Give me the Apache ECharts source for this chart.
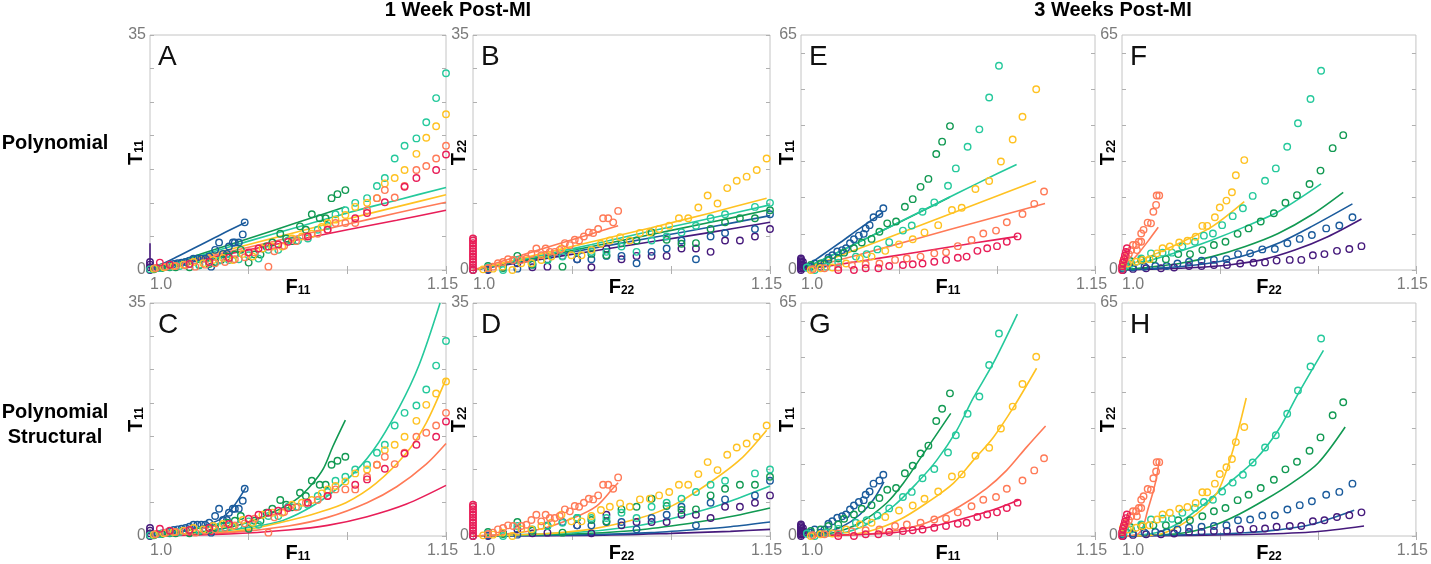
<!DOCTYPE html>
<html><head><meta charset="utf-8">
<script src="https://cdn.jsdelivr.net/npm/echarts@6/dist/echarts.min.js"></script>
<style>html,body{margin:0;padding:0;background:#fff}#c{width:1431px;height:564px}</style>
</head><body><div id="c"></div>
<script>
// ---------- experimental points: 1 week, F11 (panels A & C) ----------
const w1F11_purple = [[1.0,0],[1.0,0.4],[1.0,0.8],[1.0,1.2]];
const w1F11_blue = [[1.002,0.2],[1.004,0.3],[1.006,0.4],[1.008,0.5],[1.010,0.7],[1.012,0.9],[1.014,1.0],[1.016,1.1],[1.018,1.2],[1.020,1.4],[1.022,1.7],[1.024,1.7],[1.026,1.7],[1.028,1.7],[1.030,2.0],[1.031,0.5],[1.033,3.0],[1.035,4.1],[1.037,2.4],[1.039,2.4],[1.040,3.5],[1.042,4.1],[1.043,4.1],[1.045,4.1],[1.047,5.3],[1.048,7.1]];
const w1F11_green = [[1.002,0.1],[1.006,0.3],[1.010,0.4],[1.013,0.4],[1.020,0.4],[1.025,0.7],[1.030,0.9],[1.033,1.2],[1.036,1.5],[1.039,2.0],[1.043,2.3],[1.046,3.0],[1.050,1.1],[1.053,2.3],[1.056,2.3],[1.059,3.5],[1.062,4.1],[1.066,5.4],[1.069,4.7],[1.072,4.3],[1.076,6.5],[1.079,6.0],[1.082,8.3],[1.086,7.7],[1.089,7.7],[1.092,10.7],[1.095,11.3],[1.099,11.9]];
const w1F11_teal = [[1.000,0.1],[1.005,0.3],[1.010,0.5],[1.015,0.6],[1.020,0.9],[1.025,0.8],[1.030,1.1],[1.035,1.4],[1.040,1.5],[1.045,1.6],[1.050,2.2],[1.055,1.7],[1.060,3.0],[1.065,3.0],[1.070,4.4],[1.075,4.4],[1.080,4.7],[1.085,6.0],[1.090,6.6],[1.094,8.3],[1.099,8.9],[1.104,10.0],[1.110,10.7],[1.115,12.5],[1.119,13.7],[1.124,16.6],[1.129,18.5],[1.135,19.6],[1.140,22.0],[1.145,25.6],[1.150,29.3]];
const w1F11_yellow = [[1.002,0.2],[1.007,0.4],[1.012,0.6],[1.017,0.8],[1.022,1.2],[1.027,1.0],[1.032,1.5],[1.037,1.8],[1.042,1.5],[1.047,2.4],[1.052,2.0],[1.057,3.2],[1.062,3.5],[1.067,3.5],[1.072,4.7],[1.077,5.0],[1.082,5.4],[1.087,6.4],[1.090,7.0],[1.094,7.5],[1.099,8.2],[1.104,9.4],[1.110,10.0],[1.115,10.7],[1.119,12.9],[1.124,13.7],[1.129,14.9],[1.135,17.3],[1.140,19.7],[1.145,21.4],[1.150,23.2]];
const w1F11_orange = [[1.003,0.3],[1.008,0.5],[1.013,0.6],[1.018,0.7],[1.023,0.5],[1.028,0.8],[1.033,1.0],[1.038,1.2],[1.043,1.6],[1.048,1.9],[1.053,2.6],[1.060,0.5],[1.063,2.8],[1.068,3.6],[1.074,4.3],[1.079,5.0],[1.085,5.4],[1.090,6.0],[1.094,7.0],[1.099,7.0],[1.104,7.0],[1.110,8.9],[1.115,10.7],[1.119,11.9],[1.124,10.8],[1.129,12.5],[1.135,14.9],[1.140,15.5],[1.145,16.6],[1.150,18.5]];
const w1F11_pink = [[1.005,1.1],[1.010,0.8],[1.020,0.9],[1.030,1.2],[1.040,1.8],[1.050,2.6],[1.055,3.2],[1.060,3.5],[1.065,3.8],[1.070,4.2],[1.080,5.0],[1.090,6.0],[1.104,7.7],[1.110,8.5],[1.119,10.1],[1.129,12.4],[1.135,13.7],[1.145,14.9],[1.150,17.2]];

// ---------- experimental points: 1 week, F22 (panels B & D) ----------
const w1F22_pink = [[1.0,0],[1.0,0.4],[1.0,0.8],[1.0,1.2],[1.0,1.6],[1.0,2.0],[1.0,2.4],[1.0,2.8],[1.0,3.2],[1.0,3.6],[1.0,4.0],[1.0,4.4],[1.0,4.7]];
const w1F22_orange = [[1.0076,0.3],[1.0101,0.5],[1.0126,1.0],[1.0152,1.2],[1.0177,1.6],[1.0202,1.5],[1.0244,1.5],[1.027,1.7],[1.0295,2.4],[1.032,3.2],[1.0345,2.2],[1.0367,3.2],[1.0388,2.7],[1.0413,2.7],[1.0438,3.0],[1.0464,4.0],[1.0489,3.7],[1.0514,4.5],[1.0536,4.4],[1.056,5.0],[1.0585,5.6],[1.0607,5.5],[1.0632,6.1],[1.0657,7.7],[1.0683,7.7],[1.0708,7.1],[1.0733,8.8]];
const w1F22_yellow = [[1.0051,0.1],[1.0101,0.2],[1.0148,0.5],[1.0199,0],[1.0244,1.0],[1.0295,1.0],[1.0345,1.5],[1.0396,2.0],[1.0447,3.2],[1.0497,2.2],[1.0548,2.2],[1.0598,3.0],[1.0646,3.9],[1.0691,4.4],[1.0743,4.9],[1.0792,4.4],[1.0843,5.5],[1.0893,5.6],[1.094,6.1],[1.0991,6.6],[1.104,7.7],[1.1087,7.7],[1.1138,9.3],[1.1185,11.1],[1.1235,9.9],[1.1284,12.2],[1.1332,13.3],[1.1382,13.9],[1.1433,14.9],[1.1483,16.6]];
const w1F22_teal = [[1.0076,0.4],[1.0152,0],[1.0224,1.5],[1.03,1.0],[1.0376,1.5],[1.0452,2.0],[1.0526,2.7],[1.0598,2.7],[1.0674,2.7],[1.075,3.5],[1.0826,2.7],[1.0902,4.4],[1.0978,5.0],[1.1053,5.6],[1.1126,6.6],[1.12,7.7],[1.1273,8.3],[1.1424,9.4],[1.15,10.0]];
const w1F22_green = [[1.0076,0.6],[1.0152,0.3],[1.0224,2.1],[1.03,0.8],[1.0376,1.5],[1.0452,0.5],[1.0526,2.7],[1.0598,2.4],[1.0674,2.2],[1.075,4.0],[1.0826,4.4],[1.0902,5.6],[1.0978,4.5],[1.1053,3.9],[1.1126,4.0],[1.12,6.1],[1.1273,7.1],[1.1348,7.7],[1.1424,7.7],[1.15,8.9]];
const w1F22_blue = [[1.0076,0.1],[1.0152,0.4],[1.0224,0.2],[1.03,0.8],[1.0376,1.6],[1.0452,2.1],[1.0526,1.6],[1.0598,1.6],[1.0674,2.1],[1.075,2.1],[1.0826,1.0],[1.0902,2.7],[1.0978,3.2],[1.1053,4.4],[1.1126,1.6],[1.12,5.0],[1.1273,5.5],[1.1424,6.1],[1.15,8.3]];
const w1F22_purple = [[1.0,0],[1.0076,0],[1.0152,0.4],[1.0224,1.0],[1.03,0.4],[1.0376,0.5],[1.0526,1.6],[1.0598,0.4],[1.0674,3.2],[1.075,1.6],[1.0826,2.1],[1.0902,2.1],[1.0978,2.1],[1.1053,3.2],[1.1126,3.2],[1.12,2.7],[1.1273,4.4],[1.1348,4.4],[1.1424,5.0],[1.15,6.1]];

// ---------- experimental points: 3 weeks, F11 (panels E & G) ----------
const w3F11_purple = [[1.0,0],[1.0,0.4],[1.0,0.8],[1.0,1.2],[1.0,1.6],[1.0,2.0],[1.0,2.4],[1.0,2.8],[1.0,3.2],[1.001,0.6],[1.001,1.4],[1.001,2.2]];
const w3F11_blue = [[1.003,0.7],[1.005,0.9],[1.007,1.8],[1.010,0.9],[1.012,1.8],[1.014,3.4],[1.016,4.1],[1.0185,5.1],[1.021,5.5],[1.023,6.0],[1.025,7.4],[1.027,8.5],[1.0295,9.5],[1.032,10.0],[1.033,11.5],[1.035,12.4],[1.037,14.6],[1.040,15.5],[1.042,17.1]];
const w3F11_green = [[1.005,1.4],[1.010,1.8],[1.014,2.8],[1.019,3.2],[1.022,4.8],[1.027,6.0],[1.031,7.6],[1.036,8.6],[1.040,10.6],[1.044,12.9],[1.0485,13.4],[1.053,17.5],[1.057,19.6],[1.061,23.0],[1.065,25.2],[1.069,32.1],[1.072,35.5],[1.076,39.8]];
const w3F11_teal = [[1.003,0.7],[1.007,0],[1.013,0.9],[1.019,2.0],[1.028,3.7],[1.0335,4.4],[1.039,5.7],[1.045,7.7],[1.052,10.9],[1.0565,12.3],[1.062,16.1],[1.068,18.7],[1.075,23.3],[1.079,28.1],[1.085,34.1],[1.091,38.9],[1.096,47.7],[1.101,56.5]];
const w3F11_yellow = [[1.005,0],[1.010,0.5],[1.016,0.7],[1.023,1.8],[1.030,3.2],[1.036,3.7],[1.043,5.3],[1.050,7.1],[1.057,8.5],[1.063,10.4],[1.070,12.4],[1.077,16.6],[1.082,17.2],[1.089,22.4],[1.096,24.6],[1.102,30.0],[1.108,36.1],[1.113,42.4],[1.120,50.0]];
const w3F11_orange = [[1.006,0.2],[1.012,0.5],[1.019,0.7],[1.026,1.3],[1.033,1.6],[1.040,1.8],[1.048,2.8],[1.054,3.2],[1.061,3.7],[1.068,4.6],[1.074,4.9],[1.080,6.6],[1.087,8.3],[1.093,10.1],[1.0995,10.9],[1.105,13.2],[1.113,15.5],[1.119,18.3],[1.124,21.7]];
const w3F11_pink = [[1.019,0],[1.027,0],[1.033,0.5],[1.0395,0.5],[1.045,1.1],[1.052,1.4],[1.057,1.6],[1.062,1.8],[1.068,2.3],[1.074,2.8],[1.080,3.4],[1.0845,3.7],[1.090,5.3],[1.095,6.0],[1.100,6.6],[1.105,7.8],[1.1105,9.3]];

// ---------- experimental points: 3 weeks, F22 (panels F & H) ----------
const w3F22_pink = [[1.0,0],[1.0,1.0],[1.0005,2.0],[1.001,3.0],[1.0015,4.0],[1.002,5.0],[1.0025,6.0]];
const w3F22_orange = [[1.0005,1.4],[1.0013,2.8],[1.0022,3.7],[1.0035,4.4],[1.0047,5.5],[1.0056,6.9],[1.0072,6.9],[1.0076,5.5],[1.0086,7.8],[1.0098,7.8],[1.0098,10.1],[1.011,11.1],[1.0131,13.1],[1.0148,12.9],[1.016,16.1],[1.0174,18.0],[1.0177,20.6],[1.019,20.6]];
const w3F22_yellow = [[1.0005,2.3],[1.003,1.8],[1.0072,2.3],[1.0106,2.8],[1.014,3.0],[1.0179,4.6],[1.0207,6.0],[1.0244,6.5],[1.0292,7.6],[1.0334,8.1],[1.0376,9.2],[1.041,12.2],[1.0435,12.2],[1.0474,14.6],[1.0499,17.3],[1.0533,19.2],[1.0561,21.5],[1.0581,26.2],[1.0624,30.4]];
const w3F22_teal = [[1.0008,0.7],[1.0047,1.8],[1.0098,3.2],[1.0148,4.6],[1.0207,4.8],[1.0255,4.8],[1.0308,6.5],[1.0372,7.8],[1.0418,9.5],[1.0464,10.1],[1.0511,12.4],[1.0565,14.9],[1.0617,17.1],[1.0667,20.5],[1.073,24.7],[1.0785,28.1],[1.0843,34.1],[1.0898,40.6],[1.0962,47.3],[1.1016,55.1]];
const w3F22_green = [[1.0005,1.4],[1.0042,2.5],[1.0098,2.8],[1.016,3.0],[1.0224,3.0],[1.0287,4.4],[1.0347,4.4],[1.041,5.5],[1.0469,6.9],[1.0528,7.8],[1.059,10.0],[1.0646,11.5],[1.0708,13.4],[1.0775,15.7],[1.0834,18.6],[1.0893,20.7],[1.0957,23.8],[1.1013,27.5],[1.1075,33.7],[1.1129,37.3]];
const w3F22_blue = [[1.0005,0.5],[1.0056,0.7],[1.0115,0.9],[1.017,1.1],[1.0228,1.1],[1.0283,1.8],[1.0342,2.3],[1.0406,2.6],[1.0469,2.8],[1.0533,3.0],[1.0592,4.4],[1.0654,4.6],[1.0716,5.7],[1.078,5.8],[1.0844,7.4],[1.0907,8.6],[1.0969,9.7],[1.1042,11.5],[1.1109,12.3],[1.1176,14.6]];
const w3F22_purple = [[1.0005,0],[1.0056,0.3],[1.0123,0.5],[1.0199,0.5],[1.0266,0.7],[1.0342,1.1],[1.0406,1.1],[1.0469,1.4],[1.0536,1.4],[1.0603,1.8],[1.0671,2.0],[1.073,2.1],[1.0789,2.6],[1.0856,2.8],[1.0915,2.8],[1.0974,4.1],[1.1033,4.4],[1.1097,5.3],[1.116,5.8],[1.1222,6.6]];

// ---------- model fits: Polynomial (A, B, E, F) ----------
const fitA_purple = [[1.0,0],[1.0,4.0]];
const fitA_blue = [[1.0,0],[1.012,1.7],[1.024,3.5],[1.036,5.3],[1.0486,7.1]];
const fitA_green = [[1.0,0],[1.025,2.3],[1.05,4.7],[1.075,7.1],[1.0987,9.4]];
const fitA_teal = [[1.0,0],[1.025,2.1],[1.05,4.3],[1.075,6.4],[1.10,8.5],[1.125,10.4],[1.15,12.3]];
const fitA_yellow = [[1.0,0],[1.025,1.9],[1.05,3.8],[1.075,5.7],[1.10,7.6],[1.125,9.4],[1.15,11.2]];
const fitA_orange = [[1.0,0],[1.025,1.7],[1.05,3.4],[1.075,5.1],[1.10,6.8],[1.125,8.5],[1.15,10.1]];
const fitA_pink = [[1.0,0],[1.025,1.5],[1.05,3.0],[1.075,4.5],[1.10,6.0],[1.125,7.4],[1.15,8.9]];

const fitB_orange = [[1.0,0],[1.02,1.8],[1.04,3.6],[1.06,5.4],[1.0733,6.6]];
const fitB_yellow = [[1.0,0],[1.03,2.1],[1.06,4.2],[1.09,6.3],[1.12,8.5],[1.1483,10.7]];
const fitB_teal = [[1.0,0],[1.03,1.9],[1.06,3.8],[1.09,5.8],[1.12,7.7],[1.15,9.7]];
const fitB_green = [[1.0,0],[1.03,1.7],[1.06,3.5],[1.09,5.3],[1.12,7.1],[1.15,9.0]];
const fitB_blue = [[1.0,0],[1.03,1.6],[1.06,3.2],[1.09,4.8],[1.12,6.4],[1.15,8.1]];
const fitB_purple = [[1.0,0],[1.03,1.4],[1.06,2.8],[1.09,4.2],[1.12,5.6],[1.15,7.1]];

const fitE_blue = [[1.0,0],[1.01,3.8],[1.02,7.6],[1.03,11.5],[1.0417,15.9]];
const fitE_green = [[1.0,0],[1.02,5.2],[1.04,10.5],[1.06,15.8],[1.076,20.2]];
const fitE_teal = [[1.0,0],[1.02,5.2],[1.04,10.5],[1.06,15.9],[1.08,21.3],[1.10,26.6],[1.11,29.2]];
const fitE_yellow = [[1.0,0],[1.03,6.0],[1.06,12.2],[1.09,18.4],[1.1199,24.6]];
const fitE_orange = [[1.0,0],[1.03,4.3],[1.06,8.8],[1.09,13.3],[1.1245,18.4]];
const fitE_pink = [[1.0,0],[1.03,2.4],[1.06,5.0],[1.09,7.6],[1.1105,9.3]];

const fitF_pink = [[1.0,0],[1.0022,6.0]];
const fitF_orange = [[1.0,0],[1.004,2.0],[1.009,5.0],[1.014,8.5],[1.0185,11.8]];
const fitF_yellow = [[1.0,0],[1.0022,0.9],[1.0157,4.1],[1.0292,7.4],[1.046,12.0],[1.0624,18.9]];
const fitF_teal = [[1.0,0],[1.0123,2.3],[1.0292,5.1],[1.046,8.3],[1.0629,12.0],[1.0797,16.1],[1.1016,23.8]];
const fitF_green = [[1.0,0],[1.0123,0.7],[1.0292,1.8],[1.046,3.7],[1.0629,6.5],[1.0797,10.1],[1.0966,15.2],[1.1129,21.5]];
const fitF_blue = [[1.0,0],[1.0123,0.4],[1.0292,0.9],[1.046,2.0],[1.0629,4.1],[1.0797,7.4],[1.0966,12.0],[1.1176,18.3]];
const fitF_purple = [[1.0,0],[1.0123,0.2],[1.0376,0.7],[1.0544,1.4],[1.0713,2.8],[1.0882,5.5],[1.105,9.2],[1.1222,14.1]];

// ---------- model fits: Polynomial Structural (C, D, G, H) ----------
const fitC_blue = [[1.0,0],[1.01,0.3],[1.02,0.9],[1.03,1.8],[1.036,2.6],[1.042,4.3],[1.0486,7.3]];
const fitC_green = [[1.0,0],[1.02,0.4],[1.04,1.3],[1.055,2.6],[1.0655,4.0],[1.075,5.7],[1.0824,7.9],[1.088,10.2],[1.0926,13.4],[1.099,17.4]];
const fitC_teal = [[1.0,0],[1.03,0.5],[1.05,1.3],[1.067,2.3],[1.084,4.8],[1.099,8.2],[1.113,12.8],[1.1264,19.4],[1.1365,25.8],[1.147,35]];
const fitC_yellow = [[1.0,0],[1.03,0.4],[1.05,1.0],[1.07,2.3],[1.085,3.5],[1.0993,5.0],[1.1145,7.9],[1.13,12.5],[1.14,17.0],[1.15,23.6]];
const fitC_orange = [[1.0,0],[1.04,0.5],[1.07,1.5],[1.09,2.8],[1.11,5.0],[1.125,7.4],[1.14,10.8],[1.15,13.9]];
const fitC_pink = [[1.0,0],[1.04,0.3],[1.07,0.9],[1.09,1.6],[1.11,2.9],[1.13,4.8],[1.15,7.6]];

const fitD_orange = [[1.0,0],[1.0135,0.2],[1.0337,1.0],[1.0506,2.7],[1.0624,4.5],[1.0708,7.2],[1.0733,8.0]];
const fitD_yellow = [[1.0,0],[1.0337,0.3],[1.059,1.0],[1.0843,2.7],[1.101,4.6],[1.118,7.7],[1.135,11.5],[1.1483,15.9]];
const fitD_teal = [[1.0,0],[1.05,0.5],[1.08,1.4],[1.10,2.6],[1.12,4.2],[1.135,5.8],[1.15,7.5]];
const fitD_green = [[1.0,0],[1.05,0.3],[1.08,0.8],[1.10,1.5],[1.12,2.4],[1.135,3.2],[1.15,4.2]];
const fitD_blue = [[1.0,0],[1.06,0.2],[1.09,0.5],[1.11,0.9],[1.13,1.4],[1.15,2.1]];
const fitD_purple = [[1.0,0],[1.06,0.1],[1.10,0.4],[1.13,0.7],[1.15,1.0]];

const fitG_blue = [[1.0,0],[1.0105,0.7],[1.0216,2.8],[1.0301,6.0],[1.0369,10.1],[1.0423,15.1]];
const fitG_green = [[1.0,0],[1.0165,0.9],[1.0301,3.7],[1.0437,9.2],[1.0522,14.7],[1.0624,22.9],[1.0764,34.2]];
const fitG_teal = [[1.0,0],[1.0199,0.7],[1.0335,3.2],[1.0471,8.3],[1.059,14.7],[1.0692,21.1],[1.0794,29.4],[1.0879,38.5],[1.0981,48.2],[1.1104,61.9]];
const fitG_yellow = [[1.0,0],[1.0199,0.2],[1.0352,1.4],[1.0505,4.6],[1.0641,9.2],[1.0777,14.7],[1.0879,21.1],[1.0981,27.5],[1.1083,35.8],[1.1202,46.8]];
const fitG_orange = [[1.0,0],[1.0301,0.4],[1.0471,1.4],[1.0641,3.7],[1.0811,8.3],[1.0947,13.3],[1.1049,18.3],[1.1151,24.8],[1.1248,30.7]];
const fitG_pink = [[1.0,0],[1.0301,0.4],[1.0471,0.9],[1.0641,2.3],[1.0811,4.6],[1.0981,7.3],[1.1114,10.1]];

const fitH_pink = [[1.0,0],[1.0015,3.0],[1.003,6.5]];
const fitH_orange = [[1.0,0],[1.008,0.5],[1.011,3.0],[1.013,7.0],[1.0157,12.0],[1.0175,16.0],[1.019,21.2]];
const fitH_yellow = [[1.0,0],[1.017,0.3],[1.0292,2.8],[1.0426,8.3],[1.0494,12.9],[1.0561,23.0],[1.0634,38.5]];
const fitH_teal = [[1.0,0],[1.0174,0.9],[1.0292,3.7],[1.0426,9.2],[1.0544,14.7],[1.0679,21.2],[1.0797,29.5],[1.0898,39.6],[1.1028,51.8]];
const fitH_green = [[1.0,0],[1.0292,0.7],[1.046,2.8],[1.0595,6.0],[1.073,10.1],[1.0865,14.7],[1.10,20.3],[1.1139,30.4]];
const fitH_blue = [[1.0,0],[1.0376,0.4],[1.0629,0.9],[1.0797,1.7],[1.0966,3.2],[1.1185,7.2]];
const fitH_purple = [[1.0,0],[1.0629,0.4],[1.0966,1.1],[1.1235,2.8]];

// ---------- axes / labels ----------
const xTicks = [1.0, 1.05, 1.10, 1.15];
const xLabels = [1.0, 1.15];
const yTicks35 = [0, 5, 10, 15, 20, 25, 30, 35];
const yTicks65 = [0, 10, 20, 30, 40, 50, 60];
const colTitles = ['1 Week Post-MI', '3 Weeks Post-MI'];
const rowTitles = ['Polynomial', 'Polynomial\nStructural'];

const COLORS = {purple:'#461a7c', blue:'#1b5b9c', green:'#119952', teal:'#25c99c', yellow:'#ffc222', orange:'#ff7a57', pink:'#e81e58'};
const ORDER = ['purple','blue','green','teal','yellow','orange','pink'];
const FF = 'Liberation Sans, Arial, Helvetica, sans-serif';

const pts = {
  w1F11:{purple:w1F11_purple,blue:w1F11_blue,green:w1F11_green,teal:w1F11_teal,yellow:w1F11_yellow,orange:w1F11_orange,pink:w1F11_pink},
  w1F22:{purple:w1F22_purple,blue:w1F22_blue,green:w1F22_green,teal:w1F22_teal,yellow:w1F22_yellow,orange:w1F22_orange,pink:w1F22_pink},
  w3F11:{purple:w3F11_purple,blue:w3F11_blue,green:w3F11_green,teal:w3F11_teal,yellow:w3F11_yellow,orange:w3F11_orange,pink:w3F11_pink},
  w3F22:{purple:w3F22_purple,blue:w3F22_blue,green:w3F22_green,teal:w3F22_teal,yellow:w3F22_yellow,orange:w3F22_orange,pink:w3F22_pink}
};
const fits = {
  A:{purple:fitA_purple,blue:fitA_blue,green:fitA_green,teal:fitA_teal,yellow:fitA_yellow,orange:fitA_orange,pink:fitA_pink},
  B:{purple:fitB_purple,blue:fitB_blue,green:fitB_green,teal:fitB_teal,yellow:fitB_yellow,orange:fitB_orange},
  E:{blue:fitE_blue,green:fitE_green,teal:fitE_teal,yellow:fitE_yellow,orange:fitE_orange,pink:fitE_pink},
  F:{purple:fitF_purple,blue:fitF_blue,green:fitF_green,teal:fitF_teal,yellow:fitF_yellow,orange:fitF_orange,pink:fitF_pink},
  C:{blue:fitC_blue,green:fitC_green,teal:fitC_teal,yellow:fitC_yellow,orange:fitC_orange,pink:fitC_pink},
  D:{purple:fitD_purple,blue:fitD_blue,green:fitD_green,teal:fitD_teal,yellow:fitD_yellow,orange:fitD_orange},
  G:{blue:fitG_blue,green:fitG_green,teal:fitG_teal,yellow:fitG_yellow,orange:fitG_orange,pink:fitG_pink},
  H:{purple:fitH_purple,blue:fitH_blue,green:fitH_green,teal:fitH_teal,yellow:fitH_yellow,orange:fitH_orange,pink:fitH_pink}
};

const panels = [
  {id:'A', left:150, top:35, width:296, height:235, ymax:35, sub:'11', data:'w1F11'},
  {id:'B', left:473, top:35, width:297, height:235, ymax:35, sub:'22', data:'w1F22'},
  {id:'E', left:801, top:35, width:294, height:235, ymax:65, sub:'11', data:'w3F11'},
  {id:'F', left:1122, top:35, width:297, height:235, ymax:65, sub:'22', data:'w3F22'},
  {id:'C', left:150, top:303, width:296, height:237, ymax:35, sub:'11', data:'w1F11'},
  {id:'D', left:473, top:303, width:297, height:237, ymax:35, sub:'22', data:'w1F22'},
  {id:'G', left:801, top:303, width:294, height:237, ymax:65, sub:'11', data:'w3F11'},
  {id:'H', left:1122, top:303, width:297, height:237, ymax:65, sub:'22', data:'w3F22'}
];

const richName = {
  a:{fontSize:20, fontWeight:'bold', color:'#000', fontFamily:FF, lineHeight:20},
  b:{fontSize:12, fontWeight:'bold', color:'#000', fontFamily:FF, lineHeight:12, verticalAlign:'bottom'}
};
const labelRich = {
  l:{color:'#7a7a7a', fontSize:16, fontFamily:FF},
  r:{color:'#7a7a7a', fontSize:16, fontFamily:FF, padding:[0,7,0,0]}
};
const tickStyle = {show:true, inside:true, length:4, lineStyle:{color:'#b0b0b0', width:1}};

const grid = [], xAxis = [], yAxis = [], series = [], graphic = [];
panels.forEach((p, i) => {
  grid.push({left:p.left, top:p.top, width:p.width, height:p.height, show:true, borderColor:'#c4c4c4', borderWidth:1, backgroundColor:'#fff'});
  const yT = p.ymax === 35 ? yTicks35 : yTicks65;
  xAxis.push({type:'value', gridIndex:i, min:1.0, max:1.15, position:'bottom',
    axisLine:{show:false}, splitLine:{show:false},
    axisTick:Object.assign({customValues:xTicks}, tickStyle),
    axisLabel:{customValues:xLabels, margin:7, alignMinLabel:'left', rich:labelRich,
      formatter:v => (v < 1.01 ? '{l|1.0}' : '{r|1.15}')},
    name:'{a|F}{b|' + p.sub + '}', nameLocation:'middle', nameGap:7, nameMoveOverlap:false,
    nameTextStyle:{rich:richName}});
  xAxis.push({type:'value', gridIndex:i, min:1.0, max:1.15, position:'top',
    axisLine:{show:false}, splitLine:{show:false}, axisLabel:{show:false},
    axisTick:Object.assign({customValues:xTicks}, tickStyle)});
  yAxis.push({type:'value', gridIndex:i, min:0, max:p.ymax, position:'left',
    axisLine:{show:false}, splitLine:{show:false},
    axisTick:Object.assign({customValues:yT}, tickStyle),
    axisLabel:{customValues:[0, p.ymax], color:'#7a7a7a', fontSize:16, fontFamily:FF, margin:4},
    name:'{a|T}{b|' + p.sub + '}', nameLocation:'middle', nameRotate:90, nameGap:4, nameMoveOverlap:false,
    nameTextStyle:{rich:richName}});
  yAxis.push({type:'value', gridIndex:i, min:0, max:p.ymax, position:'right',
    axisLine:{show:false}, splitLine:{show:false}, axisLabel:{show:false},
    axisTick:Object.assign({customValues:yT}, tickStyle)});

  const xi = i * 2, yi = i * 2;
  const f = fits[p.id];
  ORDER.forEach(c => {
    if (f[c]) {
      series.push({type:'line', xAxisIndex:xi, yAxisIndex:yi, data:f[c], showSymbol:false, symbol:'none',
        smooth:f[c].length > 2 ? 0.3 : false, clip:false, silent:true,
        lineStyle:{color:COLORS[c], width:1.6, opacity:1}, z:2});
    }
  });
  const d = pts[p.data];
  ORDER.forEach(c => {
    series.push({type:'scatter', xAxisIndex:xi, yAxisIndex:yi, data:d[c], symbol:'circle', symbolSize:6.5,
      clip:false, silent:true,
      itemStyle:{color:'rgba(0,0,0,0)', borderColor:COLORS[c], borderWidth:1.4, opacity:1}, z:3});
  });
  graphic.push({type:'text', left:p.left + 8, top:p.top + 8, z:10,
    style:{text:p.id, fontSize:28, fontFamily:FF, fill:'#111'}});
});

graphic.push({type:'text', x:458, y:10, style:{text:colTitles[0], fontSize:20, fontWeight:'bold', fontFamily:FF, fill:'#000', textAlign:'center', textVerticalAlign:'middle'}});
graphic.push({type:'text', x:1113, y:10, style:{text:colTitles[1], fontSize:20, fontWeight:'bold', fontFamily:FF, fill:'#000', textAlign:'center', textVerticalAlign:'middle'}});
graphic.push({type:'text', x:55, y:143, style:{text:rowTitles[0], fontSize:20, fontWeight:'bold', fontFamily:FF, fill:'#000', textAlign:'center', textVerticalAlign:'middle'}});
graphic.push({type:'text', x:55, y:425, style:{text:rowTitles[1], fontSize:20, fontWeight:'bold', fontFamily:FF, fill:'#000', textAlign:'center', textVerticalAlign:'middle', lineHeight:25}});

const chart = echarts.init(document.getElementById('c'), null, {renderer:'canvas'});
chart.setOption({animation:false, backgroundColor:'#fff', grid, xAxis, yAxis, series, graphic});
</script></body></html>
